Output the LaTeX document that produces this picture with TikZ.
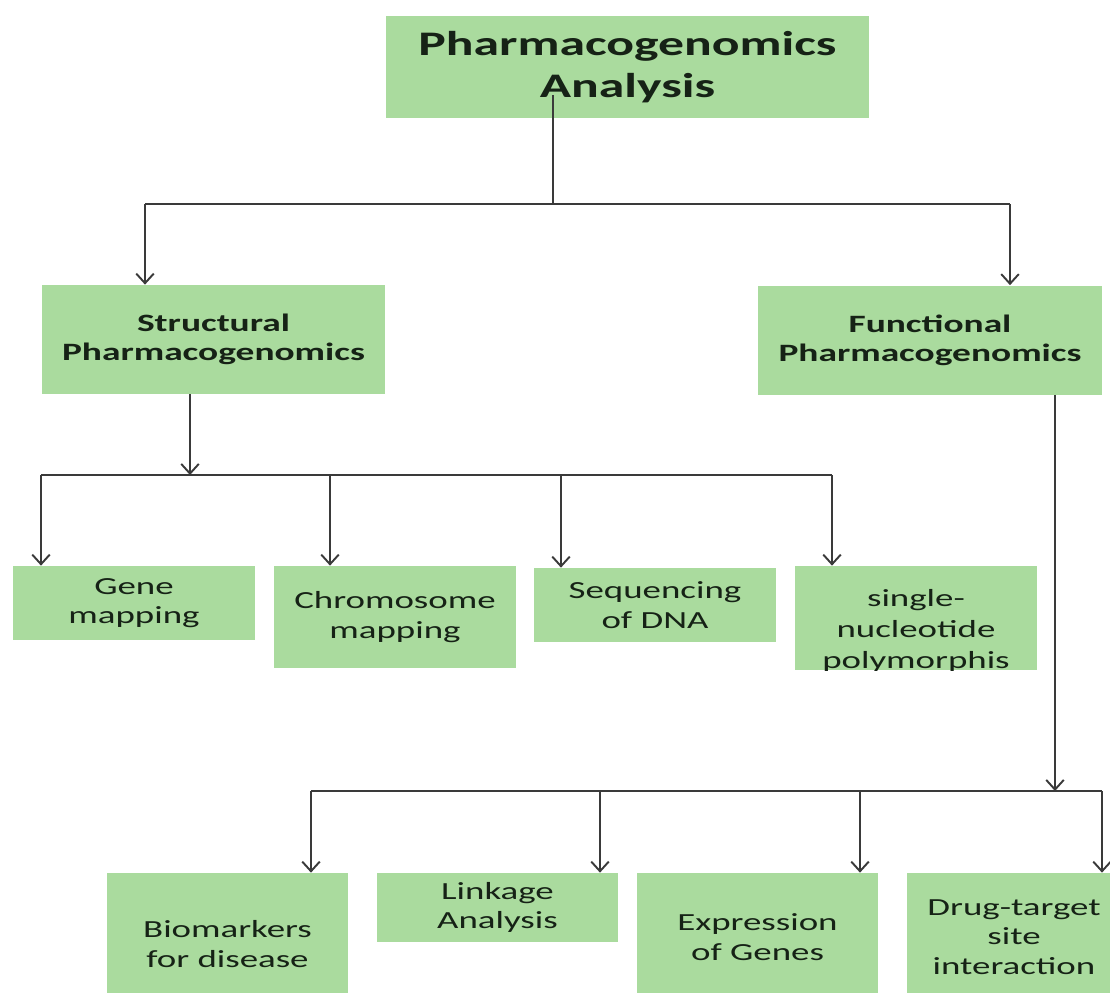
\documentclass[tikz,border=0pt]{standalone}
\usepackage{fontspec}
\setmainfont{Carlito}[FakeStretch=1.5]
\usetikzlibrary{arrows.meta}
\definecolor{boxgreen}{RGB}{170,219,158}
\definecolor{inkdark}{RGB}{22,34,22}
\definecolor{wire}{RGB}{58,58,58}
\begin{document}
\begin{tikzpicture}[x=0.02cm,y=-0.02cm,
  box/.style={fill=boxgreen,text=inkdark,align=center,inner sep=0pt,minimum width=4.84cm,font=\fontsize{14}{16.8}\selectfont},
  headbox/.style={box,minimum width=6.88cm,minimum height=2.18cm,font=\fontsize{14.2}{16.5}\selectfont\bfseries},
  link/.style={draw=wire,line width=1.1pt},
  arr/.style={link,-{Straight Barb[length=5.5pt,width=10pt]}}]
\useasboundingbox (0,0) rectangle (1110,992);
\clip (0,0) rectangle (1110,992);
\node[box,minimum width=9.66cm,minimum height=2.06cm,font=\fontsize{19.6}{23.9}\selectfont\bfseries] (title) at (627.5,67) {Pharmacogenomics\\Analysis};
\node[headbox] (struct) at (213.5,339.5) {Structural\\Pharmacogenomics};
\node[headbox] (func) at (930,340) {Functional\\Pharmacogenomics};
\node[box,minimum height=1.48cm] (gene) at (134,603) {Gene\\mapping};
\node[box,minimum height=2.04cm] (chrom) at (395,617) {Chromosome\\mapping};
\node[box,minimum height=1.48cm] (seq) at (655,605) {Sequencing\\of DNA};
\node[box,minimum height=2.08cm,path picture={
  \node[anchor=north,align=center,inner sep=0pt,text=inkdark,font=\fontsize{14}{17.6}\selectfont]
    at ([yshift=-0.25cm]path picture bounding box.north) {single-\\nucleotide\\polymorphis};}] (snp) at (916,618) {};
\node[box,minimum height=2.84cm] (bio) at (227.5,944) {Biomarkers\\for disease};
\node[box,minimum height=1.38cm] (link) at (497.5,907.5) {Linkage\\Analysis};
\node[box,minimum height=2.56cm] (expr) at (757.5,937) {Expression\\of Genes};
\node[box,minimum width=4.28cm,minimum height=2.56cm] (drug) at (1014,937) {Drug-target\\site\\interaction};
\coordinate (tstart) at (553,95);
\coordinate (tbus) at (553,204);
\coordinate (tbusL) at (145,204);
\coordinate (tbusR) at (1010,204);
\draw[link] (tstart) -- (tbus);
\draw[link] (tbusL) -- (tbusR);
\draw[arr] (tbusL) -- (tbusL |- struct.north);
\draw[arr] (tbusR) -- (tbusR |- func.north);
\coordinate (sbus) at (190,475);
\coordinate (s1) at (41,475);
\coordinate (s2) at (330,475);
\coordinate (s3) at (561,475);
\coordinate (s4) at (832,475);
\draw[arr] (struct.south -| sbus) -- (sbus);
\draw[link] (s1) -- (s4);
\draw[arr] (s1) -- (s1 |- gene.north);
\draw[arr] (s2) -- (s2 |- chrom.north);
\draw[arr] (s3) -- (s3 |- seq.north);
\draw[arr] (s4) -- (s4 |- snp.north);
\coordinate (fbus) at (1055,791);
\coordinate (f1) at (311,791);
\coordinate (f2) at (600,791);
\coordinate (f3) at (860,791);
\coordinate (f4) at (1102,791);
\draw[arr] (func.south -| fbus) -- (fbus);
\draw[link] (f1) -- (f4);
\draw[arr] (f1) -- (f1 |- bio.north);
\draw[arr] (f2) -- (f2 |- link.north);
\draw[arr] (f3) -- (f3 |- expr.north);
\draw[arr] (f4) -- (f4 |- drug.north);
\end{tikzpicture}
\end{document}
